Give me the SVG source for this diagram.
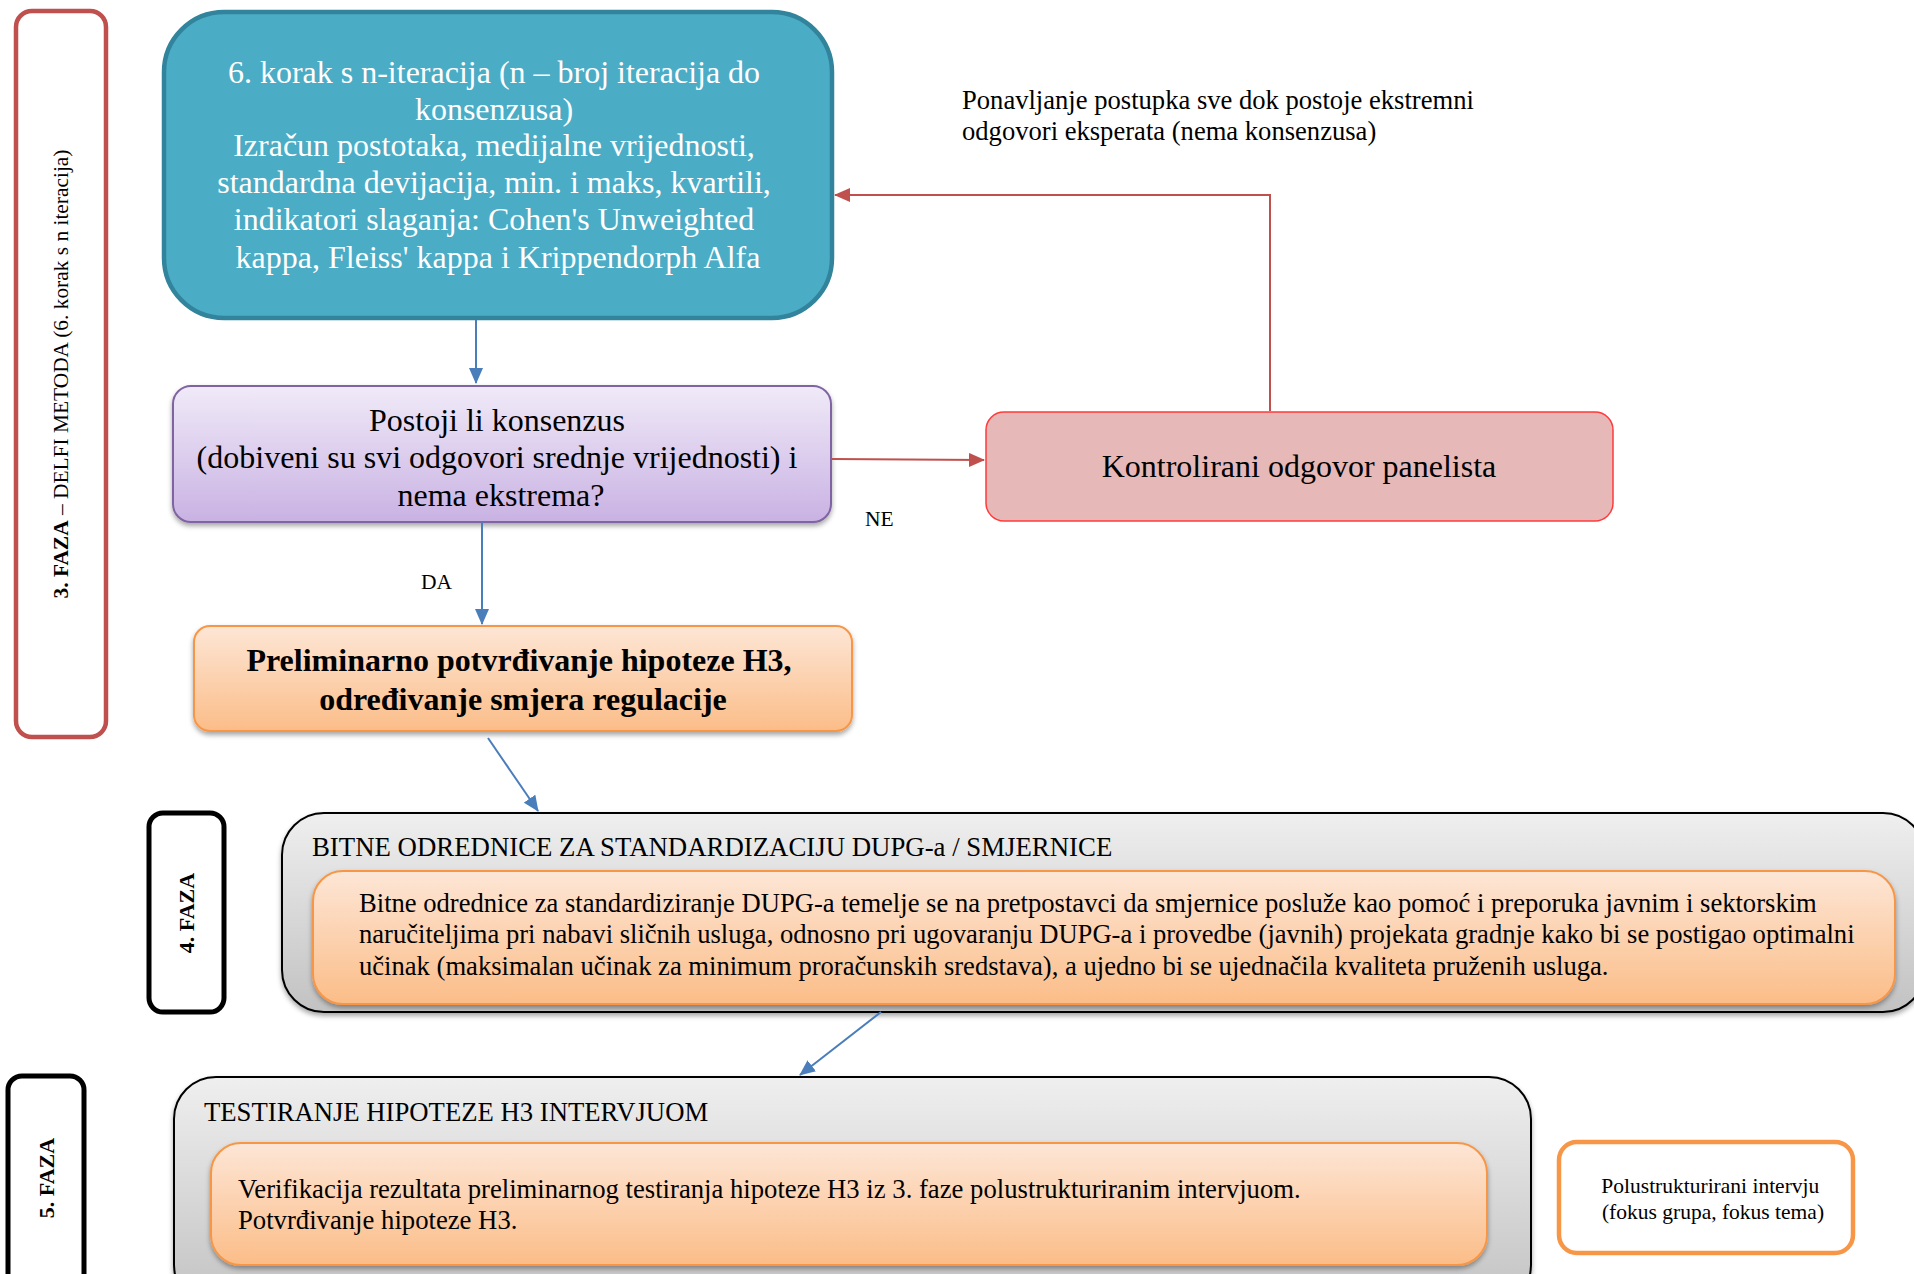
<svg xmlns="http://www.w3.org/2000/svg" width="1914" height="1274" viewBox="0 0 1914 1274">
<defs>
<style>
text{font-family:"Liberation Serif","Times New Roman",serif;fill:#000}
.w{fill:#fff}
.b{font-weight:bold}
.c{text-anchor:middle}
.blue{stroke:#4a7ebb;stroke-width:2;fill:none}
.red{stroke:#c0504d;stroke-width:2;fill:none}
</style>
<linearGradient id="gPur" x1="0" y1="0" x2="0" y2="1"><stop offset="0" stop-color="#f0eaf8"/><stop offset="1" stop-color="#c9b2e3"/></linearGradient>
<linearGradient id="gOr" x1="0" y1="0" x2="0" y2="1"><stop offset="0" stop-color="#fde6d6"/><stop offset="1" stop-color="#fbbd88"/></linearGradient>
<linearGradient id="gGr" x1="0" y1="0" x2="0" y2="1"><stop offset="0" stop-color="#efefef"/><stop offset="1" stop-color="#c2c2c2"/></linearGradient>
<filter id="sh" x="-5%" y="-10%" width="110%" height="130%"><feDropShadow dx="0" dy="3" stdDeviation="2.5" flood-color="#000" flood-opacity="0.35"/></filter>
<marker id="aB" markerUnits="userSpaceOnUse" markerWidth="16" markerHeight="14" refX="15" refY="7" orient="auto"><path d="M0,0 L16,7 L0,14 Z" fill="#4a7ebb"/></marker>
<marker id="aR" markerUnits="userSpaceOnUse" markerWidth="16" markerHeight="14" refX="15" refY="7" orient="auto"><path d="M0,0 L16,7 L0,14 Z" fill="#c0504d"/></marker>
</defs>
<rect width="1914" height="1274" fill="#fff"/>

<g id="faza3">
<rect x="16" y="11" width="90" height="726" rx="16" fill="#fff" stroke="#c0504d" stroke-width="4.5"/>
<text transform="translate(68,374) rotate(-90)" class="c" font-size="21.4"><tspan class="b">3. FAZA</tspan> – DELFI METODA (6. korak s n iteracija)</text>
</g>

<g id="korak6">
<rect x="164" y="12" width="668" height="306" rx="60" fill="#4bacc6" stroke="#31849b" stroke-width="4.5"/>
<text class="w c" font-size="32">
<tspan x="498" y="83">6. korak s n-iteracija (n – broj iteracija do</tspan>
<tspan x="498" y="120">konsenzusa)</tspan>
<tspan x="498" y="156">Izračun postotaka, medijalne vrijednosti,</tspan>
<tspan x="498" y="193">standardna devijacija, min. i maks, kvartili,</tspan>
<tspan x="498" y="230">indikatori slaganja: Cohen's Unweighted</tspan>
<tspan x="498" y="268">kappa, Fleiss' kappa i Krippendorph Alfa</tspan>
</text>
</g>

<g id="konsenzus">
<rect x="173" y="386" width="658" height="136" rx="18" fill="url(#gPur)" stroke="#8064a2" stroke-width="2" filter="url(#sh)"/>
<text class="c" font-size="32">
<tspan x="501" y="431">Postoji li konsenzus</tspan>
<tspan x="501" y="468">(dobiveni su svi odgovori srednje vrijednosti) i</tspan>
<tspan x="501" y="506">nema ekstrema?</tspan>
</text>
</g>

<g id="kontrolirani">
<rect x="986" y="412" width="627" height="109" rx="18" fill="#e6b8b7" stroke="#ff3b3b" stroke-width="1.5"/>
<text class="c" x="1299" y="477" font-size="32">Kontrolirani odgovor panelista</text>
</g>

<g id="ponavljanje">
<text font-size="26.6"><tspan x="962" y="109">Ponavljanje postupka sve dok postoje ekstremni</tspan><tspan x="962" y="140">odgovori eksperata (nema konsenzusa)</tspan></text>
</g>

<g id="preliminarno">
<rect x="194" y="626" width="658" height="105" rx="16" fill="url(#gOr)" stroke="#f79646" stroke-width="2" filter="url(#sh)"/>
<text class="c b" font-size="32">
<tspan x="523" y="671">Preliminarno potvrđivanje hipoteze H3,</tspan>
<tspan x="523" y="710">određivanje smjera regulacije</tspan>
</text>
</g>

<g id="faza4">
<rect x="149" y="813" width="75" height="199" rx="14" fill="#fff" stroke="#000" stroke-width="5"/>
<text transform="translate(194,913) rotate(-90)" class="c b" font-size="22">4. FAZA</text>
</g>

<g id="smjernice">
<rect x="282" y="813" width="1643" height="199" rx="42" fill="url(#gGr)" stroke="#000" stroke-width="2" filter="url(#sh)"/>
<text x="312" y="856" font-size="26.8">BITNE ODREDNICE ZA STANDARDIZACIJU DUPG-a / SMJERNICE</text>
<rect x="313" y="871" width="1582" height="133" rx="30" fill="url(#gOr)" stroke="#f79646" stroke-width="2" filter="url(#sh)"/>
<text font-size="26.6">
<tspan x="359" y="912">Bitne odrednice za standardiziranje DUPG-a temelje se na pretpostavci da smjernice posluže kao pomoć i preporuka javnim i sektorskim</tspan>
<tspan x="359" y="943">naručiteljima pri nabavi sličnih usluga, odnosno pri ugovaranju DUPG-a i provedbe (javnih) projekata gradnje kako bi se postigao optimalni</tspan>
<tspan x="359" y="975">učinak (maksimalan učinak za minimum proračunskih sredstava), a ujedno bi se ujednačila kvaliteta pruženih usluga.</tspan>
</text>
</g>

<g id="faza5">
<rect x="8" y="1076" width="76" height="220" rx="14" fill="#fff" stroke="#000" stroke-width="5"/>
<text transform="translate(54,1178) rotate(-90)" class="c b" font-size="22">5. FAZA</text>
</g>

<g id="testiranje">
<rect x="174" y="1077" width="1357" height="230" rx="42" fill="url(#gGr)" stroke="#000" stroke-width="2" filter="url(#sh)"/>
<text x="204" y="1121" font-size="26.7">TESTIRANJE HIPOTEZE H3 INTERVJUOM</text>
<rect x="211" y="1143" width="1276" height="122" rx="30" fill="url(#gOr)" stroke="#f79646" stroke-width="2" filter="url(#sh)"/>
<text font-size="26.7">
<tspan x="238" y="1198">Verifikacija rezultata preliminarnog testiranja hipoteze H3 iz 3. faze polustrukturiranim intervjuom.</tspan>
<tspan x="238" y="1229">Potvrđivanje hipoteze H3.</tspan>
</text>
</g>

<g id="polustrukturirani">
<rect x="1559" y="1142" width="294" height="111" rx="18" fill="#fff" stroke="#f79646" stroke-width="4.5"/>
<text class="c" font-size="21.5">
<tspan x="1713" y="1193">Polustrukturirani intervju</tspan>
<tspan x="1713" y="1219">(fokus grupa, fokus tema)</tspan>
</text>
</g>

<g id="connectors">
<line class="blue" x1="476" y1="320" x2="476" y2="383" marker-end="url(#aB)"/>
<line class="red" x1="832" y1="459" x2="984" y2="460" marker-end="url(#aR)"/>
<polyline class="red" points="1270,411 1270,195 835,195" marker-end="url(#aR)"/>
<line class="blue" x1="482" y1="522" x2="482" y2="624" marker-end="url(#aB)"/>
<line class="blue" x1="488" y1="738" x2="538" y2="811" marker-end="url(#aB)"/>
<line class="blue" x1="881" y1="1012" x2="800" y2="1075" marker-end="url(#aB)"/>
<text x="865" y="526" font-size="21.5">NE</text>
<text x="421" y="589" font-size="21.5">DA</text>
</g>
</svg>
